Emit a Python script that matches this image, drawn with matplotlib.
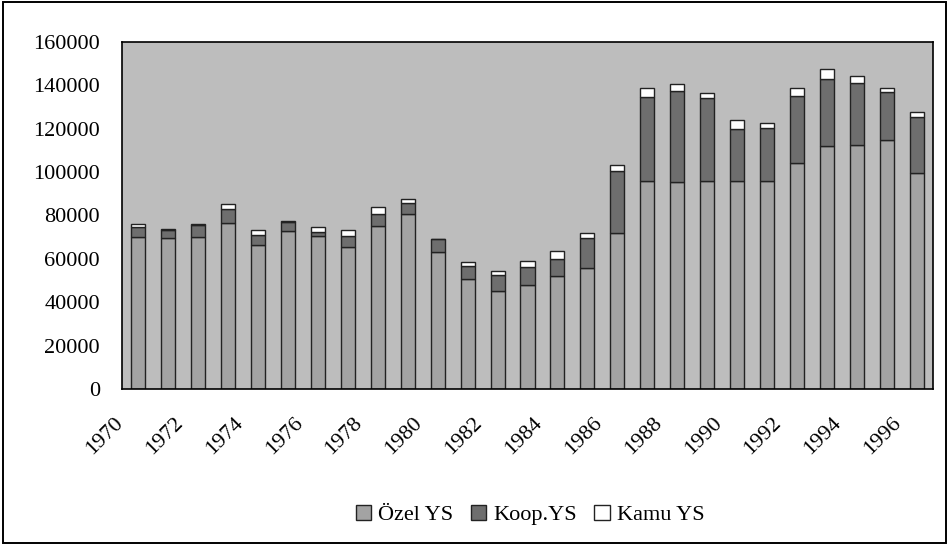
import numpy as np
import matplotlib
matplotlib.use("Agg")
import matplotlib.pyplot as plt
from matplotlib.patches import Rectangle
from matplotlib.transforms import ScaledTranslation

years = list(range(1970, 1997))
ozel = [70000, 69500, 70000, 76500, 66500, 73000, 70500, 65500, 75000, 80500,
        63000, 50700, 45000, 48000, 52000, 56000, 72000, 96000, 95500, 96000,
        96000, 96000, 104000, 112000, 112500, 115000, 99500]
koop = [4500, 4000, 5500, 6500, 4700, 4200, 2000, 5000, 5500, 5300,
        6200, 5800, 7700, 8200, 8000, 13800, 28300, 38500, 42000, 38000,
        24000, 24200, 31000, 31000, 28500, 22000, 26000]
kamu = [1500, 500, 500, 2500, 2000, 300, 2300, 2700, 3500, 1900,
        0, 1900, 1600, 3000, 3500, 2300, 3000, 4300, 3000, 2700,
        3900, 2300, 4000, 4500, 3400, 1600, 2000]
labels = ["Özel YS", "Koop.YS", "Kamu YS"]

plt.rcParams["font.family"] = ["Liberation Serif", "DejaVu Serif"]

fig = plt.figure(figsize=(9.48, 5.47), dpi=100)
# outer frame around the whole chart
fig.patches.append(Rectangle((3 / 948, 1 - 543 / 547), 943 / 948, 541 / 547,
                             transform=fig.transFigure, fill=False,
                             edgecolor="black", linewidth=1.4))
ax = fig.add_axes([122 / 948, 1 - 389 / 547, (933 - 122) / 948, (389 - 42) / 547])
ax.set_facecolor("#bdbdbd")

x = np.arange(len(years))
w = 0.47
ozel_a = np.array(ozel)
koop_a = np.array(koop)
kamu_a = np.array(kamu)
ax.bar(x, ozel_a, w, color="#a3a3a3", edgecolor="#222222", linewidth=1, label=labels[0])
ax.bar(x, koop_a, w, bottom=ozel_a, color="#6e6e6e", edgecolor="#222222", linewidth=1, label=labels[1])
ax.bar(x, kamu_a, w, bottom=ozel_a + koop_a, color="white", edgecolor="#222222", linewidth=1, label=labels[2])

ax.set_xlim(-0.55, 26.55)
ax.set_ylim(0, 160000)
ax.set_yticks(range(0, 160001, 20000))
ax.tick_params(axis="y", length=0, labelsize=16, pad=16)
ax.set_xticks(x[::2])
ax.set_xticklabels([str(y) for y in years[::2]], rotation=45, ha="right", va="center",
                   rotation_mode="anchor", fontsize=16)
ax.tick_params(axis="x", length=0, pad=0)
offset = ScaledTranslation(-18 / 100, -31 / 100, fig.dpi_scale_trans)
for lab in ax.get_xticklabels():
    lab.set_transform(lab.get_transform() + offset)
for s in ax.spines.values():
    s.set_linewidth(1.2)

fig.legend(loc="center", bbox_to_anchor=(530 / 948, 1 - 515 / 547), ncol=3, frameon=False,
           fontsize=16, handlelength=0.7, handleheight=0.7, handletextpad=0.3,
           columnspacing=0.8)

fig.savefig("out.png", dpi=100)
